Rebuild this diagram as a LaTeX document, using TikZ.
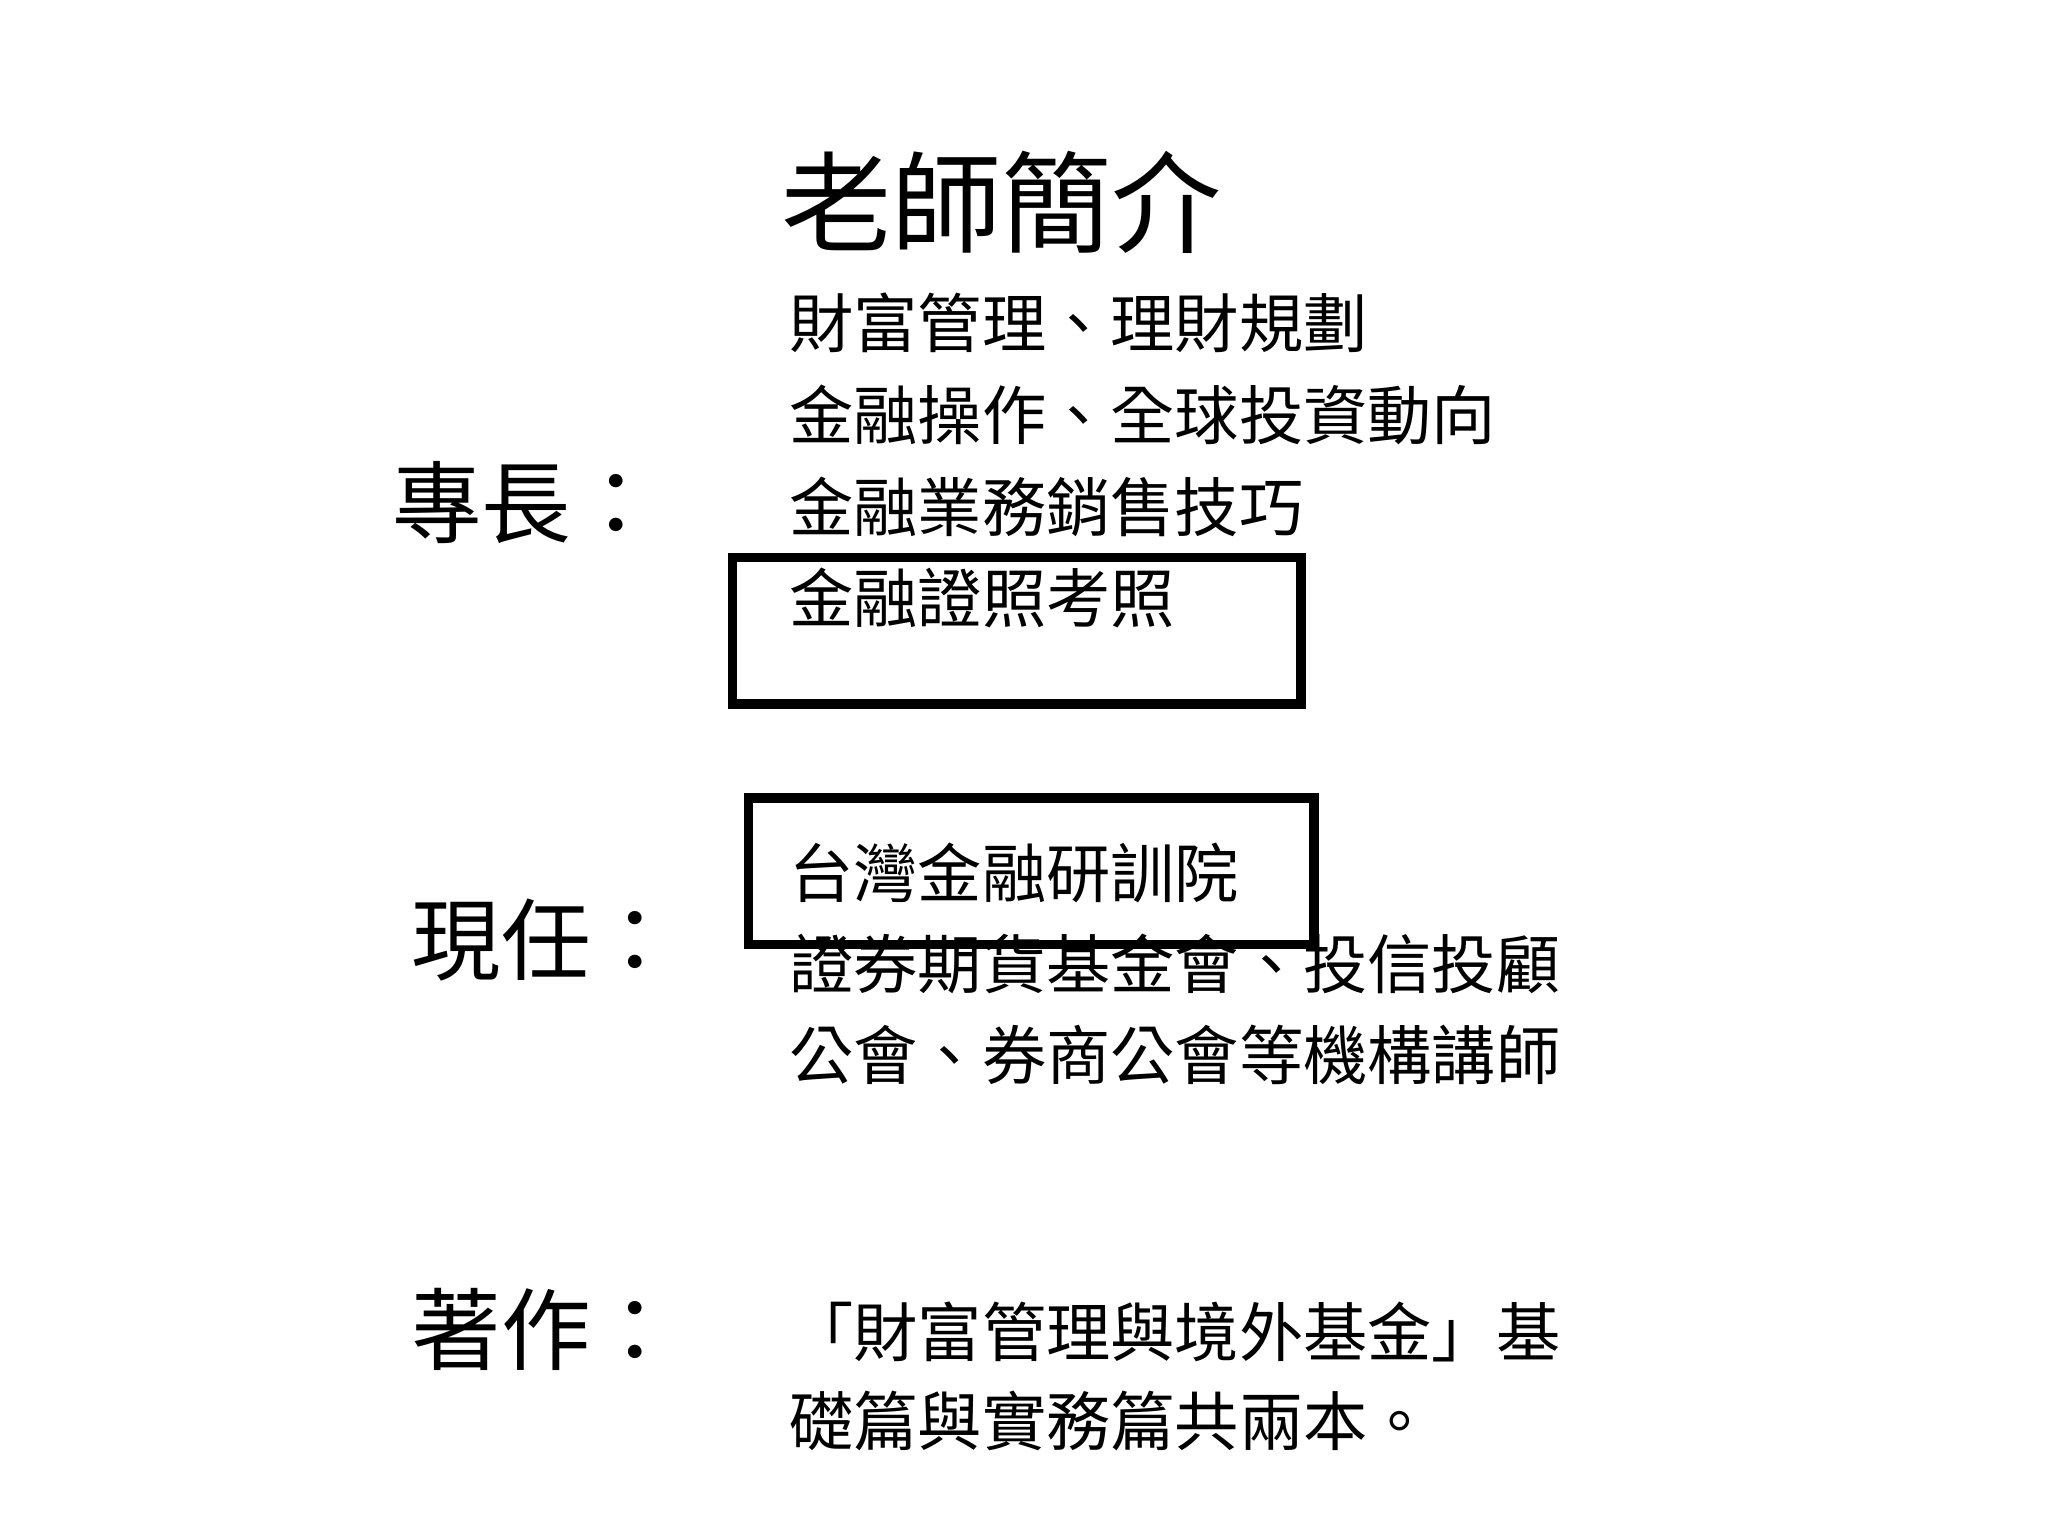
\documentclass[tikz,border=0pt]{standalone}
\usepackage{fontspec}
\setmainfont{Noto Sans CJK TC}
\begin{document}
\begin{tikzpicture}[x=0.02cm,y=-0.02cm,
  body/.style={anchor=west,inner sep=0pt,font=\fontsize{28}{30}\selectfont},
  lab/.style={anchor=west,inner sep=0pt,font=\fontsize{39}{42}\selectfont},
  frame/.style={draw=black,line width=4pt}]
\useasboundingbox (0,0) rectangle (1568,1176);
\node[anchor=west,inner sep=0pt,font=\fontsize{48}{50}\selectfont] (title) at (598,155) {老師簡介};
\node[lab] (l1) at (300,385) {專長：};
\node[lab] (l2) at (315,720) {現任：};
\node[lab] (l3) at (315,1018) {著作：};
\node[body] (a1) at (604,247) {財富管理、理財規劃};
\node[body] (a2) at (604,318) {金融操作、全球投資動向};
\node[body] (a3) at (604,388) {金融業務銷售技巧};
\node[body] (a4) at (604,458) {金融證照考照};
\node[body] (b1) at (604,668) {台灣金融研訓院};
\node[body] (b2) at (604,738) {證券期貨基金會、投信投顧};
\node[body] (b3) at (604,808) {公會、券商公會等機構講師};
\node[body] (c1) at (604,1020) {「財富管理與境外基金」基};
\node[body] (c2) at (604,1088) {礎篇與實務篇共兩本。};
\draw[frame] (561,427) rectangle (996,539);
\draw[frame] (573,611) rectangle (1006,723);
\end{tikzpicture}
\end{document}
